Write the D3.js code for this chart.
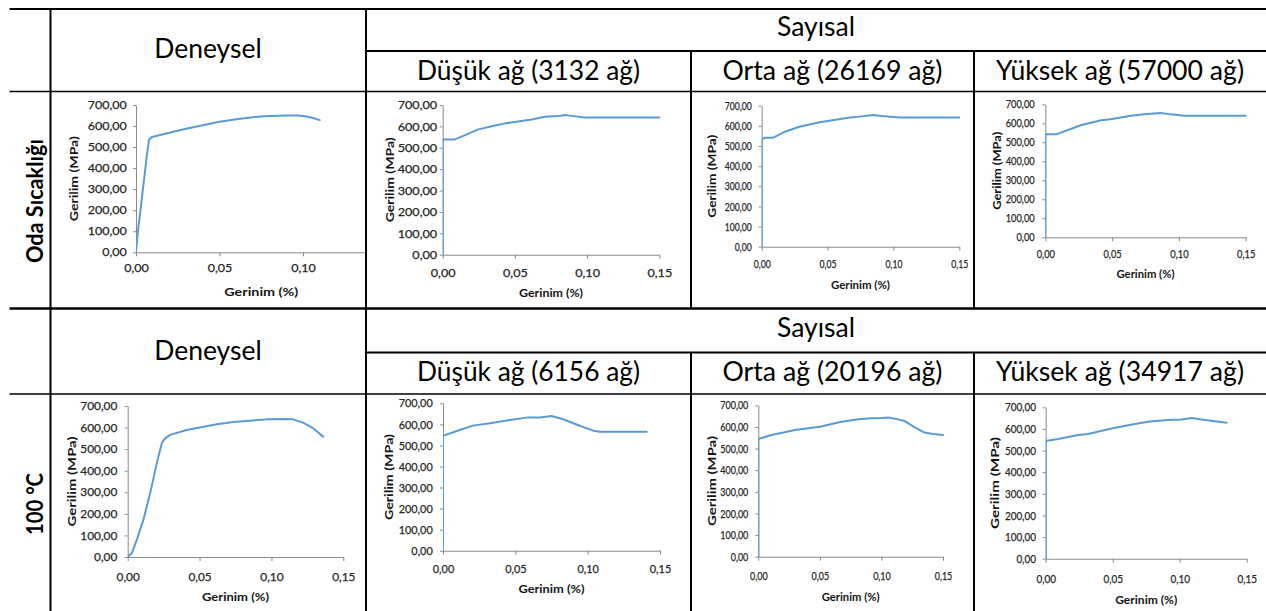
<!DOCTYPE html>
<html>
<head>
<meta charset="utf-8">
<script src="https://cdn.jsdelivr.net/npm/d3@7"></script>
<style>
  html, body { margin: 0; padding: 0; background: #fff; }
  svg { display: block; }
</style>
</head>
<body>
<svg id="chart" width="1266" height="611"></svg>
<script>
// ---- shared axis ticks -------------------------------------------------
const stressTicks = [0, 100, 200, 300, 400, 500, 600, 700];
const strainTicks = [0, 0.05, 0.10, 0.15];

// ---- table texts --------------------------------------------------------
const groupTitles = ["Deneysel", "Sayısal"];
const meshTitlesOda = ["Düşük ağ (3132 ağ)", "Orta ağ (26169 ağ)", "Yüksek ağ (57000 ağ)"];
const meshTitles100 = ["Düşük ağ (6156 ağ)", "Orta ağ (20196 ağ)", "Yüksek ağ (34917 ağ)"];
const rowTitles = ["Oda Sıcaklığı", "100 °C"];
const xTitle = "Gerinim (%)";
const yTitle = "Gerilim (MPa)";

// ---- stress–strain curves (strain %, stress MPa) ------------------------
// room temperature
const strainDeneyselOda = [0, 0.001, 0.004, 0.0065, 0.0078, 0.0095, 0.012, 0.02, 0.03, 0.04, 0.05, 0.06, 0.07, 0.08, 0.09, 0.097, 0.102, 0.106, 0.11];
const stressDeneyselOda = [0, 90, 290, 460, 535, 548, 553, 568, 587, 604, 620, 632, 642, 648, 650, 650, 645, 638, 628];
const strainDusukOda = [0, 0, 0.0085, 0.0155, 0.0247, 0.034, 0.043, 0.05, 0.0616, 0.0708, 0.08, 0.0847, 0.0905, 0.0985, 0.15];
const stressDusukOda = [0, 539, 539, 559, 586, 601, 614, 621, 632, 645, 648, 653, 648, 642, 642];
const strainOrtaOda = [0, 0, 0.0025, 0.0089, 0.0177, 0.0278, 0.043, 0.05, 0.0657, 0.0758, 0.0847, 0.091, 0.1, 0.105, 0.15];
const stressOrtaOda = [0, 533, 541, 541, 571, 594, 617, 624, 640, 647, 654, 649, 644, 641, 641];
const strainYuksekOda = [0, 0, 0.0082, 0.017, 0.027, 0.042, 0.05, 0.064, 0.074, 0.0863, 0.094, 0.104, 0.15];
const stressYuksekOda = [0, 542, 542, 565, 591, 616, 623, 640, 647, 654, 647, 640, 640];
// 100 °C
const strainDeneysel100 = [0, 0.0028, 0.0063, 0.0109, 0.0156, 0.0202, 0.0237, 0.026, 0.0295, 0.041, 0.05, 0.062, 0.0736, 0.085, 0.097, 0.108, 0.115, 0.122, 0.129, 0.136];
const stressDeneysel100 = [0, 17, 79, 172, 295, 434, 527, 550, 566, 589, 600, 615, 626, 632, 638, 640, 638, 623, 597, 558];
const strainDusuk100 = [0, 0, 0.0115, 0.0207, 0.0325, 0.046, 0.058, 0.067, 0.075, 0.083, 0.095, 0.104, 0.1085, 0.122, 0.1408];
const stressDusuk100 = [0, 546, 573, 594, 605, 621, 632, 633, 640, 624, 592, 570, 565, 565, 565];
const strainOrta100 = [0, 0, 0.0108, 0.0298, 0.05, 0.0677, 0.0812, 0.092, 0.1, 0.1056, 0.1137, 0.119, 0.127, 0.135, 0.142, 0.15];
const stressOrta100 = [0, 544, 563, 586, 601, 624, 635, 640, 641, 644, 635, 627, 598, 574, 567, 563];
const strainYuksek100 = [0, 0, 0.0092, 0.0242, 0.0316, 0.05, 0.0665, 0.0777, 0.0914, 0.1014, 0.109, 0.1163, 0.135];
const stressYuksek100 = [0, 544, 553, 572, 577, 603, 623, 634, 641, 644, 651, 644, 629];

// ---- panel layout -------------------------------------------------------
// cell: clip rectangle; x0/x15: pixel range of strain 0..0.15; y0/y700: pixel range of stress 0..700
// gap: distance from the y axis to the right edge of its labels; xlOff: x tick label offset
// w700 / wX / wY: drawn widths of "700,00", the x title and the y title
const panels = [
  { strain: strainDeneyselOda, stress: stressDeneyselOda, cell: [51, 92, 315, 216],  x0: 136,    x15: 386.5,  y0: 252.3, y700: 105,   gap: 9.3,  xlOff: 16,   xtY: 291.7, ytX: 74,    w700: 39,   wX: 74, wY: 85 },
  { strain: strainDusukOda,    stress: stressDusukOda,    cell: [366, 92, 325, 216], x0: 442.7,  x15: 659.3,  y0: 254.7, y700: 105,   gap: 5.5,  xlOff: 18,   xtY: 293,   ytX: 390,   w700: 39.5, wX: 64, wY: 85 },
  { strain: strainOrtaOda,     stress: stressOrtaOda,     cell: [691, 92, 283, 216], x0: 761.7,  x15: 959.3,  y0: 246.7, y700: 105.7, gap: 10,   xlOff: 17.3, xtY: 284.3, ytX: 711.7, w700: 27,   wX: 59, wY: 83 },
  { strain: strainYuksekOda,   stress: stressYuksekOda,   cell: [974, 92, 292, 216], x0: 1045.3, x15: 1245.7, y0: 237.3, y700: 104.3, gap: 10.6, xlOff: 17,   xtY: 273.7, ytX: 996.3, w700: 29,   wX: 58, wY: 78 },
  { strain: strainDeneysel100, stress: stressDeneysel100, cell: [51, 394, 315, 217], x0: 127.7,  x15: 343.3,  y0: 557,   y700: 406,   gap: 10.4, xlOff: 19.7, xtY: 596.7, ytX: 71.7,  w700: 37,   wX: 67, wY: 90 },
  { strain: strainDusuk100,    stress: stressDusuk100,    cell: [366, 394, 325, 217], x0: 443,   x15: 660,    y0: 550.7, y700: 403.3, gap: 10.3, xlOff: 18.6, xtY: 588.3, ytX: 388.3, w700: 34,   wX: 66, wY: 86 },
  { strain: strainOrta100,     stress: stressOrta100,     cell: [691, 394, 283, 217], x0: 758.3, x15: 943,    y0: 556.7, y700: 405.3, gap: 10,   xlOff: 19.3, xtY: 596.7, ytX: 711.7, w700: 28,   wX: 58, wY: 90 },
  { strain: strainYuksek100,   stress: stressYuksek100,   cell: [974, 394, 292, 217], x0: 1045.7, x15: 1246.7, y0: 558.7, y700: 407.3, gap: 9.7,  xlOff: 20.3, xtY: 600,   ytX: 994.7, w700: 31,   wX: 62, wY: 92 }
];

const svg = d3.select("#chart");
const fmt = d3.formatLocale({ decimal: ",", thousands: ".", grouping: [3], currency: ["", ""] }).format(".2f");

const FONT = "Lato, 'Open Sans', 'DejaVu Sans', sans-serif";
const TICK_SIZE = 11.5;
const TITLE_SIZE = 12;
const AXIS_GRAY = "#8a8a8a";
const TEXT_GRAY = "#262626";
const LINE_BLUE = "#5b9bd5";

// width of a string at the tick font, used to stretch labels to the panel's proportions
function measure(text, size, weight) {
  const t = svg.append("text").attr("font-family", FONT).attr("font-size", size)
    .attr("font-weight", weight || "normal").text(text);
  const w = t.node().getComputedTextLength();
  t.remove();
  return w;
}
const base700 = measure(fmt(700), TICK_SIZE);

function stretch(sel, factor) {
  sel.each(function () {
    const w = this.getComputedTextLength();
    d3.select(this).attr("textLength", w * factor).attr("lengthAdjust", "spacingAndGlyphs");
  });
}

const defs = svg.append("defs");

panels.forEach((p, i) => {
  const [cx, cy, cw, ch] = p.cell;
  defs.append("clipPath").attr("id", "cell" + i)
    .append("rect").attr("x", cx).attr("y", cy).attr("width", cw).attr("height", ch);
  // the plot area: the curve is cut at the axes, as in a spreadsheet chart
  defs.append("clipPath").attr("id", "plot" + i)
    .append("rect").attr("x", p.x0).attr("y", p.y700 - 4)
    .attr("width", Math.min(p.x15, cx + cw) - p.x0 + 4).attr("height", p.y0 - p.y700 + 4);

  const g = svg.append("g").attr("clip-path", `url(#cell${i})`);
  const x = d3.scaleLinear().domain([0, 0.15]).range([p.x0, p.x15]);
  const y = d3.scaleLinear().domain([0, 700]).range([p.y0, p.y700]);
  const factor = p.w700 / base700;

  // x axis
  const gx = g.append("g").attr("transform", `translate(0,${p.y0})`)
    .call(d3.axisBottom(x).tickValues(strainTicks).tickFormat(fmt).tickSize(4).tickSizeOuter(0));
  // y axis
  const gy = g.append("g").attr("transform", `translate(${p.x0},0)`)
    .call(d3.axisLeft(y).tickValues(stressTicks).tickFormat(fmt).tickSize(3).tickPadding(p.gap - 3).tickSizeOuter(0));

  [gx, gy].forEach(a => {
    a.attr("font-family", FONT).attr("font-size", TICK_SIZE);
    a.select(".domain").attr("stroke", AXIS_GRAY).attr("stroke-width", 1);
    a.selectAll(".tick line").attr("stroke", AXIS_GRAY).attr("stroke-width", 1);
    a.selectAll(".tick text").attr("fill", TEXT_GRAY)
      .attr("stroke", TEXT_GRAY).attr("stroke-width", 0.25);
  });
  gx.selectAll(".tick text").attr("y", p.xlOff).attr("dy", "0.35em");
  stretch(gx.selectAll(".tick text"), factor);
  stretch(gy.selectAll(".tick text"), factor);

  // axis titles
  g.append("text")
    .attr("x", (p.x0 + p.x15) / 2).attr("y", p.xtY).attr("dy", "0.35em")
    .attr("text-anchor", "middle").attr("font-family", FONT).attr("font-size", TITLE_SIZE)
    .attr("font-weight", "bold").attr("fill", "#141414")
    .attr("textLength", p.wX).attr("lengthAdjust", "spacingAndGlyphs")
    .text(xTitle);
  g.append("text")
    .attr("transform", `translate(${p.ytX},${(p.y0 + p.y700) / 2}) rotate(-90)`)
    .attr("dy", "0.35em")
    .attr("text-anchor", "middle").attr("font-family", FONT).attr("font-size", TITLE_SIZE)
    .attr("font-weight", "bold").attr("fill", "#141414")
    .attr("textLength", p.wY).attr("lengthAdjust", "spacingAndGlyphs")
    .text(yTitle);

  // curve
  const pts = p.strain.map((s, k) => [s, p.stress[k]]);
  g.append("g").attr("clip-path", `url(#plot${i})`)
    .append("path").datum(pts)
    .attr("fill", "none").attr("stroke", LINE_BLUE).attr("stroke-width", 2)
    .attr("stroke-linejoin", "round").attr("stroke-linecap", "round")
    .attr("d", d3.line().x(d => x(d[0])).y(d => y(d[1])));
});

// ---- header texts ---------------------------------------------------------
const HEAD_SIZE = 26;
function headText(str, cx, baseline, width) {
  svg.append("text").attr("x", cx).attr("y", baseline)
    .attr("text-anchor", "middle").attr("font-family", FONT).attr("font-size", HEAD_SIZE)
    .attr("fill", "#000").attr("textLength", width).attr("lengthAdjust", "spacingAndGlyphs")
    .text(str);
}
const meshCenters = [528.5, 832.5, 1120];
const meshWidths = [223, 220, 248];
[[57.5, 36, 80, meshTitlesOda], [360, 337, 380.7, meshTitles100]].forEach(([bDen, bSay, bMesh, titles]) => {
  headText(groupTitles[0], 208, bDen, 107.5);
  headText(groupTitles[1], 816, bSay, 78);
  titles.forEach((t, k) => headText(t, meshCenters[k], bMesh, meshWidths[k]));
});

// row titles, rotated
[[rowTitles[0], 42.5, 201, 124], [rowTitles[1], 43.3, 504, 62]].forEach(([str, bx, cy, len]) => {
  svg.append("text").attr("transform", `translate(${bx},${cy}) rotate(-90)`)
    .attr("text-anchor", "middle").attr("font-family", FONT).attr("font-size", 23)
    .attr("font-weight", "bold").attr("fill", "#000")
    .attr("textLength", len).attr("lengthAdjust", "spacingAndGlyphs")
    .text(str);
});

// ---- table rules ------------------------------------------------------------
const rules = [
  [9.5, 9, 1266, 9, 2],
  [50.5, 8, 50.5, 611, 2],
  [366, 8, 366, 611, 2],
  [366, 51, 1266, 51, 2],
  [691, 51, 691, 308, 2],
  [974, 51, 974, 308, 2],
  [9.5, 91.5, 1266, 91.5, 1.5],
  [9.5, 308.5, 1266, 308.5, 2.5],
  [366, 352.5, 1266, 352.5, 2],
  [691, 352.5, 691, 611, 2],
  [974, 352.5, 974, 611, 2],
  [9.5, 394, 1266, 394, 1.5]
];
svg.append("g").selectAll("line").data(rules).join("line")
  .attr("x1", d => d[0]).attr("y1", d => d[1]).attr("x2", d => d[2]).attr("y2", d => d[3])
  .attr("stroke", "#000").attr("stroke-width", d => d[4]);
</script>
</body>
</html>
